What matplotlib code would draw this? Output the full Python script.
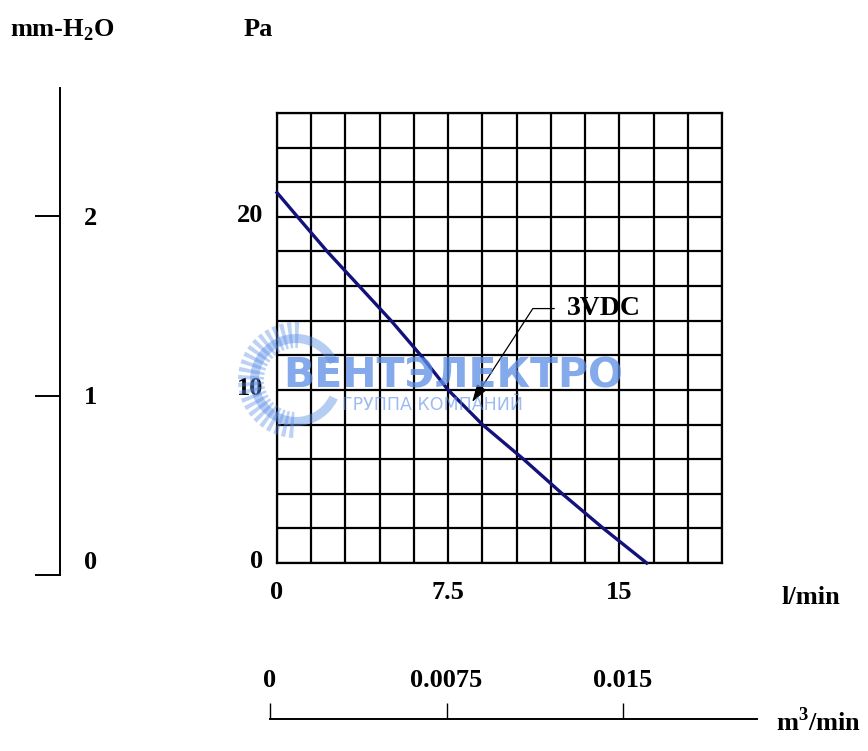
import numpy as np
import matplotlib
matplotlib.use("Agg")
import matplotlib.pyplot as plt
from matplotlib.ticker import MultipleLocator
from matplotlib.patches import Wedge
import matplotlib.transforms as mtrans

# ---------------- data ----------------
flow_lpm = [0, 0.9, 2.2, 3.6, 5.0, 6.3, 7.5, 9.0, 10.8, 12.5, 14.3, 16.2]
pressure_pa = [21.4, 20, 18, 16, 14, 12, 10, 8, 6, 4, 2, 0]
curve_label = "3VDC"
annot_xy = (8.55, 9.3)
annot_text_xy = (12.7, 14.7)

x_ticks_lpm = [0, 7.5, 15]
x_ticklabels_lpm = ["0", "7.5", "15"]
y_ticks_pa = [0, 10, 20]
y_ticklabels_pa = ["0", "10", "20"]
mm_ticks = [0, 1, 2]
mm_ticklabels = ["0", "1", "2"]
m3_ticks = [0, 0.0075, 0.015]
m3_ticklabels = ["0", "0.0075", "0.015"]

W, H = 868, 751
plt.rcParams['font.family'] = ['Liberation Serif', 'DejaVu Serif']
plt.rcParams['font.weight'] = 'bold'
plt.rcParams['mathtext.fontset'] = 'custom'
plt.rcParams['mathtext.rm'] = 'Liberation Serif:bold'
plt.rcParams['mathtext.bf'] = 'Liberation Serif:bold'

FS = 19
fig = plt.figure(figsize=(W / 100, H / 100), dpi=100)


def fx(px):
    return px / W


def fy(py):
    return 1 - py / H


# ---------------- main grid axes ----------------
L, R, T, B = 277, 722, 113, 563
ax = fig.add_axes([fx(L), fy(B), (R - L) / W, (B - T) / H])
ax.set_xlim(0, 19.5)
ax.set_ylim(0, 26)
ax.xaxis.set_minor_locator(MultipleLocator(1.5))
ax.yaxis.set_minor_locator(MultipleLocator(2))
ax.set_xticks(x_ticks_lpm)
ax.set_xticklabels(x_ticklabels_lpm)
ax.set_yticks(y_ticks_pa)
ax.set_yticklabels(y_ticklabels_pa)
ax.grid(which='both', color='black', linewidth=1.6)
ax.tick_params(which='both', length=0)
ax.tick_params(axis='x', pad=13, labelsize=FS)
ax.tick_params(axis='y', pad=10, labelsize=FS)
for lab in ax.get_yticklabels():
    lab.set_transform(lab.get_transform() + mtrans.ScaledTranslation(0, 0.04, fig.dpi_scale_trans))
for s in ax.spines.values():
    s.set_linewidth(1.6)
ax.set_axisbelow(True)

ax.plot(flow_lpm, pressure_pa, color='#12127a', linewidth=2.4, zorder=5, clip_on=False)

ax.annotate(curve_label, xy=annot_xy, xytext=annot_text_xy,
            fontsize=FS + 1, ha='left', va='center', zorder=6,
            arrowprops=dict(arrowstyle='-|>,head_length=0.9,head_width=0.28',
                            mutation_scale=12, color='black', linewidth=0.9,
                            relpos=(0, 0.5), shrinkA=7, shrinkB=0,
                            connectionstyle='angle,angleA=0,angleB=57,rad=0'))

# ---------------- left mm-H2O axis ----------------
mm_top, mm_bot, mm_x = 88, 575, 60
axl = fig.add_axes([fx(mm_x), fy(mm_bot), 0.0001, (mm_bot - mm_top) / H])
axl.set_ylim(0, 2 * (mm_bot - mm_top) / (mm_bot - 216))
axl.set_xticks([])
axl.set_yticks(mm_ticks)
axl.set_yticklabels(mm_ticklabels)
for k in ['top', 'bottom', 'right']:
    axl.spines[k].set_visible(False)
axl.spines['left'].set_linewidth(1.4)
axl.tick_params(axis='y', left=True, right=False, labelleft=False, labelright=True,
                direction='out', length=18, width=1.4, pad=-1, labelsize=FS)
axl.patch.set_visible(False)
for lab, v in zip(axl.get_yticklabels(), mm_ticks):
    if v == 0:
        lab.set_transform(lab.get_transform() + mtrans.ScaledTranslation(0, 0.15, fig.dpi_scale_trans))

# ---------------- bottom m3/min axis ----------------
b_left, b_right, b_y = 270, 757, 719
axb = fig.add_axes([fx(b_left), fy(b_y), (b_right - b_left) / W, 0.0001])
axb.set_xlim(0, 0.015 * (b_right - b_left) / (623 - b_left))
axb.set_yticks([])
axb.set_xticks(m3_ticks)
axb.set_xticklabels(m3_ticklabels)
for k in ['top', 'left', 'right']:
    axb.spines[k].set_visible(False)
axb.spines['bottom'].set_linewidth(1.4)
axb.tick_params(axis='x', bottom=True, top=False, labelbottom=False, labeltop=True,
                direction='in', length=11.5, width=1.0, pad=19.5, labelsize=FS)
axb.patch.set_visible(False)

# ---------------- unit labels ----------------
fig.text(fx(10), fy(30), r'mm-H$_{\mathregular{2}}$O', fontsize=FS, ha='left', va='center')
fig.text(fx(244), fy(30), 'Pa', fontsize=FS, ha='left', va='center')
fig.text(fx(781), fy(597), 'l/min', fontsize=FS, ha='left', va='center')
fig.text(fx(776), fy(722), r'm$^{\mathregular{3}}$/min', fontsize=FS, ha='left', va='center')

# ---------------- watermark ----------------
wm_color = '#5b8ee6'
axw = fig.add_axes([0, 0, 1, 1])
axw.set_xlim(0, W)
axw.set_ylim(H, 0)
axw.axis('off')
axw.patch.set_visible(False)
cx, cy = 296, 380
for ang in np.arange(95, 275, 8):
    axw.add_patch(Wedge((cx, cy), 58, ang - 2.2, ang + 2.2, width=26,
                        color=wm_color, alpha=0.4, lw=0))
axw.add_patch(Wedge((cx, cy), 46, 25, 335, width=9, color=wm_color, alpha=0.45, lw=0))
axw.text(283, 377, 'ВЕНТЭЛЕКТРО', family=['DejaVu Sans'], fontweight='bold',
         fontsize=29.5, color=wm_color, alpha=0.75, ha='left', va='center', zorder=10)
axw.text(342, 405, 'ГРУППА КОМПАНИЙ', family=['DejaVu Sans'], fontweight='normal',
         fontsize=12.5, color=wm_color, alpha=0.6, ha='left', va='center', zorder=10)

fig.savefig('out.png', dpi=100)
